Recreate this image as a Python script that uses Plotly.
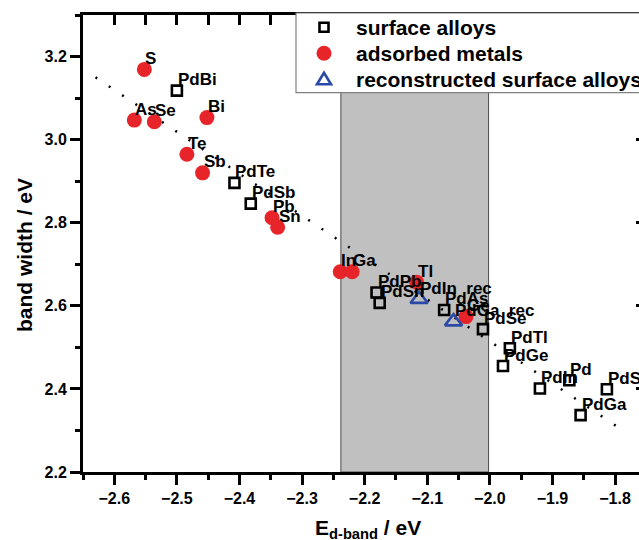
import plotly.graph_objects as go

# ---------------- data ----------------
alloy_names = ["PdBi", "PdTe", "PdSb", "PdPb", "PdSn", "PdAs", "PdSe", "PdTl",
               "PdGe", "PdIn", "Pd", "PdS", "PdGa"]
alloy_x = [-2.500, -2.408, -2.382, -2.181, -2.176, -2.073, -2.011, -1.968,
           -1.979, -1.920, -1.873, -1.813, -1.855]
alloy_y = [3.118, 2.896, 2.846, 2.632, 2.607, 2.590, 2.544, 2.498,
           2.455, 2.401, 2.421, 2.399, 2.337]

metal_names = ["S", "As", "Se", "Bi", "Te", "Sb", "Pb", "Sn", "In", "Ga", "Tl", "Ge"]
metal_x = [-2.552, -2.568, -2.536, -2.452, -2.484, -2.459, -2.348, -2.339,
           -2.239, -2.220, -2.117, -2.038]
metal_y = [3.169, 3.047, 3.043, 3.053, 2.965, 2.920, 2.812, 2.789,
           2.682, 2.682, 2.657, 2.574]

rec_names = ["PdIn\u00a0\u00a0rec", "PdGa\u00a0\u00a0rec"]
rec_x = [-2.113, -2.058]
rec_y = [2.616, 2.562]

fit_x = [-2.630, -1.789]
fit_y = [3.150, 2.3015]

band_x = [-2.238, -2.002]

x_range = [-2.65, -1.7617]
y_range = [2.2, 3.3]

series_names = ["surface alloys", "adsorbed metals", "reconstructed surface alloys"]

x_title = "E<sub>d-band</sub> / eV"
y_title = "band width / eV"

FONT = "Liberation Sans, Arial, sans-serif"
RED = "#e8242b"
BLUE = "#2b49a6"

# figure geometry (pixels)
W, H = 639, 540
ML, MR, MT, MB = 83, 0, 15, 68
PW, PH = W - ML - MR, H - MT - MB


def px_x(p):
    return (p - ML) / PW


def px_y(p):
    return (H - MB - p) / PH


fig = go.Figure()

# shaded band
fig.add_shape(type="rect", xref="x", yref="y",
              x0=band_x[0], x1=band_x[1], y0=y_range[0], y1=y_range[1],
              fillcolor="#c0c0c0", line=dict(color="#4a4a4a", width=1),
              layer="below")

# fit line
fig.add_trace(go.Scatter(x=fit_x, y=fit_y, mode="lines",
                         line=dict(color="black", width=2.5, dash="2px,14px"),
                         showlegend=False, hoverinfo="skip"))

fig.add_trace(go.Scatter(x=alloy_x, y=alloy_y, mode="markers", name=series_names[0],
                         marker=dict(symbol="square-open", size=10, color="black",
                                     line=dict(width=2.6, color="black"))))
fig.add_trace(go.Scatter(x=metal_x, y=metal_y, mode="markers", name=series_names[1],
                         marker=dict(symbol="circle", size=15, color=RED,
                                     line=dict(width=0))))
fig.add_trace(go.Scatter(x=rec_x, y=rec_y, mode="markers", name=series_names[2],
                         marker=dict(symbol="triangle-up-open", size=15, color=BLUE,
                                     line=dict(width=2.6, color=BLUE))))

# dummy traces to create mirror axes
fig.add_trace(go.Scatter(x=[], y=[], xaxis="x2", yaxis="y", showlegend=False))
fig.add_trace(go.Scatter(x=[], y=[], xaxis="x", yaxis="y2", showlegend=False))

# point labels
annotations = []
for names, xs, ys in [(metal_names, metal_x, metal_y),
                      (alloy_names, alloy_x, alloy_y),
                      (rec_names, rec_x, rec_y)]:
    for n, xv, yv in zip(names, xs, ys):
        annotations.append(dict(x=xv, y=yv, xref="x", yref="y", text=n,
                                showarrow=False, xanchor="left", yanchor="middle",
                                xshift=-1, yshift=11,
                                font=dict(family=FONT, size=17, color="black",
                                          weight="bold")))

# axis titles as annotations
annotations.append(dict(x=px_x(368), y=px_y(529), xref="paper", yref="paper", text=x_title,
                        showarrow=False, xanchor="center", yanchor="middle",
                        font=dict(family=FONT, size=21, color="black", weight="bold")))
annotations.append(dict(x=px_x(24), y=px_y(255), xref="paper", yref="paper", text=y_title,
                        showarrow=False, xanchor="center", yanchor="middle", textangle=-90,
                        font=dict(family=FONT, size=21, color="black", weight="bold")))

# ---- hand-drawn legend (box, symbols, texts) ----
shapes = []
shapes.append(dict(type="rect", xref="paper", yref="paper",
                   x0=px_x(296), x1=px_x(W + 20), y0=px_y(92.7), y1=px_y(13),
                   fillcolor="white", line=dict(color="#808080", width=1.2),
                   layer="above"))
sym_x = px_x(324)
row_y = [px_y(27.3), px_y(53.3), px_y(79.3)]
shapes.append(dict(type="rect", xref="paper", yref="paper",
                   xsizemode="pixel", ysizemode="pixel",
                   xanchor=sym_x, yanchor=row_y[0],
                   x0=-4.5, x1=4.5, y0=-4.5, y1=4.5,
                   fillcolor="white", line=dict(color="black", width=2.6)))
shapes.append(dict(type="circle", xref="paper", yref="paper",
                   xsizemode="pixel", ysizemode="pixel",
                   xanchor=sym_x, yanchor=row_y[1],
                   x0=-7.5, x1=7.5, y0=-7.5, y1=7.5,
                   fillcolor=RED, line=dict(color=RED, width=0)))
shapes.append(dict(type="path", xref="paper", yref="paper",
                   xsizemode="pixel", ysizemode="pixel",
                   xanchor=sym_x, yanchor=row_y[2],
                   path="M -7 -5 L 7 -5 L 0 6.5 Z",
                   fillcolor="white", line=dict(color=BLUE, width=2.6)))
for name, ry in zip(series_names, row_y):
    annotations.append(dict(x=px_x(354), y=ry, xref="paper", yref="paper", text=name,
                            showarrow=False, xanchor="left", yanchor="middle",
                            font=dict(family=FONT, size=21, color="black", weight="bold")))

tickfont = dict(family=FONT, size=16, color="black", weight="bold")

fig.update_layout(
    width=W, height=H,
    margin=dict(l=ML, r=MR, t=MT, b=MB, autoexpand=False),
    paper_bgcolor="white", plot_bgcolor="white",
    font=dict(family=FONT, color="black"),
    annotations=annotations,
    shapes=fig.layout.shapes + tuple(shapes),
    showlegend=False,
    xaxis=dict(range=x_range, showgrid=False, zeroline=False,
               showline=True, linecolor="black", linewidth=3, mirror=True,
               ticks="outside", ticklen=10, tickwidth=2.5, tickcolor="black",
               tick0=-2.6, dtick=0.1, tickformat=".1f", tickfont=tickfont,
               minor=dict(ticks="outside", ticklen=5, tickwidth=2.5,
                          tickcolor="black", dtick=0.05, tick0=-2.65, showgrid=False)),
    xaxis2=dict(range=x_range, overlaying="x", side="top", anchor="y",
                showgrid=False, zeroline=False, showline=False,
                ticks="inside", ticklen=10, tickwidth=2.5, tickcolor="black",
                tick0=-2.6, dtick=0.05, showticklabels=False),
    yaxis=dict(range=y_range, showgrid=False, zeroline=False,
               showline=True, linecolor="black", linewidth=3,
               ticks="outside", ticklen=10, tickwidth=2.5, tickcolor="black",
               tick0=2.2, dtick=0.2, tickformat=".1f", tickfont=tickfont,
               minor=dict(ticks="outside", ticklen=5, tickwidth=2.5,
                          tickcolor="black", dtick=0.1, tick0=2.2, showgrid=False)),
    yaxis2=dict(range=y_range, overlaying="y", side="right", anchor="x",
                showgrid=False, zeroline=False, showline=False,
                ticks="inside", ticklen=3, tickwidth=2.5, tickcolor="black",
                tick0=2.2, dtick=0.2, showticklabels=False),
)

fig.write_html("out.html",
               config={"displayModeBar": False},
               post_script="document.body.style.margin='0';document.body.style.overflow='hidden';")
